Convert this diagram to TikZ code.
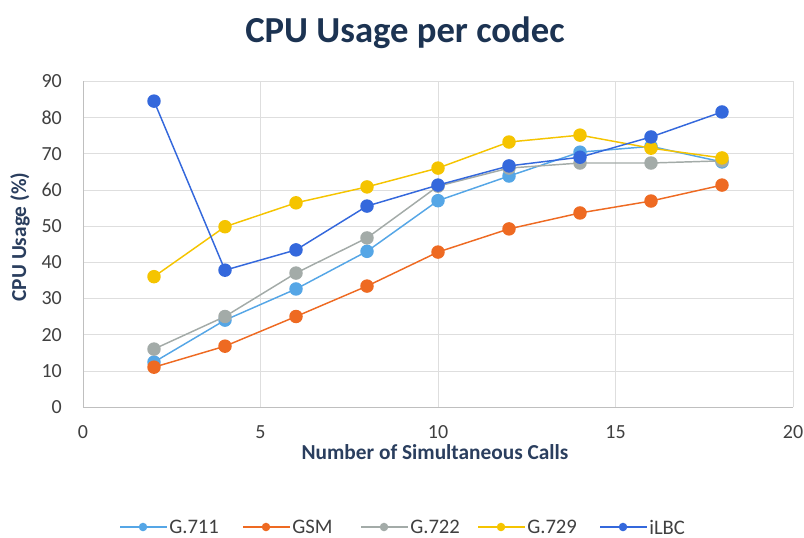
\documentclass[tikz,border=0pt]{standalone}
\usepackage{fontspec}
\setmainfont{Carlito}
\usepackage{xcolor}
\usetikzlibrary{positioning,calc}

\definecolor{gridgray}{HTML}{DEDEDE}
\definecolor{axisgray}{HTML}{BFBFBF}
\definecolor{ticktext}{HTML}{404040}
\definecolor{titleblue}{HTML}{1C3352}
\definecolor{labelblue}{HTML}{2A3E5E}
\definecolor{col711}{HTML}{55A6E6}
\definecolor{colgsm}{HTML}{EE6A22}
\definecolor{col722}{HTML}{A3ABA8}
\definecolor{col729}{HTML}{F5C400}
\definecolor{colilbc}{HTML}{3468DC}

\tikzset{
	series/.style={line width=1.1pt, mark=*, mark size=4.5pt},
	ticklabel/.style={inner sep=0pt, text=ticktext, font=\fontsize{15}{17}\selectfont},
	legendlabel/.style={inner sep=0pt, text=ticktext, font=\fontsize{15.5}{17}\selectfont},
	axistitle/.style={inner sep=0pt, text=labelblue, font=\bfseries\fontsize{16}{18}\selectfont},
}

\begin{document}
\begin{tikzpicture}[x=0.75pt, y=0.75pt]
	\useasboundingbox (0,0) rectangle (804,537);
	\node[font=\bfseries\fontsize{27.5}{32}\selectfont, text=titleblue] (title) at (405,504) {CPU Usage per codec};

	\begin{scope}[shift={(83,130)}, x=26.625pt, y=2.715pt]
		\foreach \y in {10,20,...,90}
			\draw[gridgray] (0,\y) -- (20,\y);
		\foreach \x in {5,10,15,20}
			\draw[gridgray] (\x,0) -- (\x,90);
		\draw[axisgray] (0,0) -- (20,0);
		\draw[axisgray] (0,0) -- (0,90);
		\foreach \y in {0,10,...,90}
			\node[ticklabel, anchor=east] at (-0.59,\y) {\y};
		\foreach \x in {0,5,...,20}
			\node[ticklabel] at (\x,-7) {\x};

		\draw[series, col711] plot coordinates {(2,12.4) (4,24) (6,32.6) (8,43) (10,57) (12,63.8) (14,70.4) (16,72) (18,67.7)};
		\draw[series, colgsm] plot coordinates {(2,11) (4,16.8) (6,25) (8,33.4) (10,42.8) (12,49.2) (14,53.6) (16,56.9) (18,61.3)};
		\draw[series, col722] plot coordinates {(2,16) (4,25) (6,37) (8,46.7) (10,61) (12,66) (14,67.4) (16,67.4) (18,68)};
		\draw[series, col729] plot coordinates {(2,36) (4,49.8) (6,56.4) (8,60.8) (10,66) (12,73.2) (14,75.1) (16,71.5) (18,68.8)};
		\draw[series, colilbc] plot coordinates {(2,84.5) (4,37.8) (6,43.4) (8,55.5) (10,61.3) (12,66.6) (14,69) (16,74.6) (18,81.5)};
	\end{scope}

	\node[axistitle] (xtitle) at (435,85) {Number of Simultaneous Calls};
	\node[axistitle, rotate=90] (ytitle) at (20,300) {CPU Usage (\%)};

	\foreach \x/\c/\t in {120/col711/G.711, 243/colgsm/GSM, 361/col722/G.722, 478/col729/G.729, 600/colilbc/iLBC} {
		\draw[line width=1.1pt, \c] (\x,10) -- ++(47,0);
		\fill[\c] (\x+23,10) circle (3.2pt);
		\node[legendlabel, anchor=west] at (\x+49,10) {\t};
	}
\end{tikzpicture}
\end{document}
